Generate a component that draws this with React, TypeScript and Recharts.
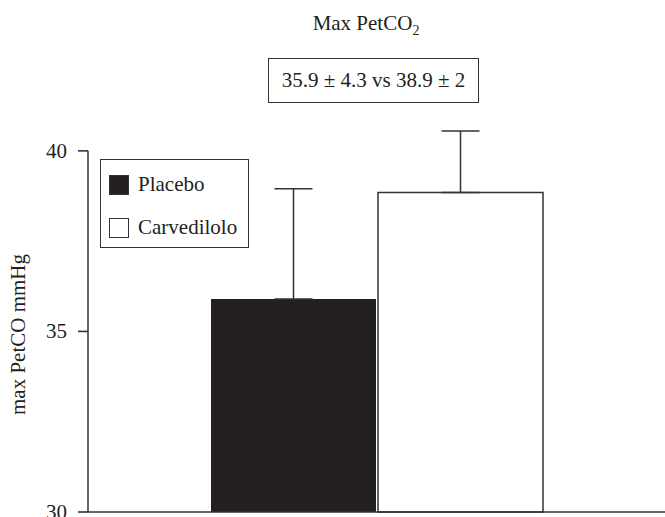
import React from 'react';
import { BarChart, Bar, XAxis, YAxis, ErrorBar, Legend, ReferenceLine } from 'recharts';

const groups = [''];
const seriesKeys = ['placebo', 'carvedilolo'];
const placebo = [35.9];
const carvedilolo = [38.85];
const placeboErr = [3.05];
const carvedililoErr = [1.7];
const yTicks = [30, 35, 40];

const SERIF = "'Liberation Serif', 'Times New Roman', serif";
const INK = '#231f20';
const LINE = '#333';
const TICK_SIZE = 10;
const TICK_GAP = 11;

const legendFill: Record<string, string> = { placebo: INK, carvedilolo: '#fff' };

const data = groups.map((g, i) => ({
  group: g,
  edge: 0,
  placebo: placebo[i],
  carvedilolo: carvedilolo[i],
  placeboErr: [0, placeboErr[i]],
  carvedililoErr: [0, carvedililoErr[i]],
}));

// legend box drawn inside the plot, top left
const renderLegend = (props: any) => {
  const items = [...(props.payload || [])].sort(
    (a: any, b: any) => seriesKeys.indexOf(a.dataKey) - seriesKeys.indexOf(b.dataKey)
  );
  return (
    <div
      style={{
        width: 149,
        height: 89,
        boxSizing: 'border-box',
        border: `1.5px solid ${LINE}`,
        paddingLeft: 8,
        paddingTop: 3,
        fontFamily: SERIF,
        fontSize: 21,
        color: INK,
        background: '#fff',
      }}
    >
      {items.map((entry: any) => (
        <div key={entry.dataKey} style={{ display: 'flex', alignItems: 'center', height: 43 }}>
          <span
            style={{
              display: 'inline-block',
              width: 20,
              height: 20,
              boxSizing: 'border-box',
              background: legendFill[entry.dataKey],
              border: `1.5px solid ${LINE}`,
              marginRight: 9,
            }}
          />
          <span>{entry.value}</span>
        </div>
      ))}
    </div>
  );
};

// tick text plus its little dash out to the axis
const YTick = (props: any) => {
  const { x, y, payload } = props;
  const tx = Number(x);
  const ty = Number(y);
  return (
    <g>
      <path d={`M${tx + TICK_GAP},${ty}H${tx + TICK_GAP + TICK_SIZE}`} stroke={LINE} strokeWidth={1.6} fill="none" />
      <text x={tx} y={ty} textAnchor="end" dominantBaseline="central" fontFamily={SERIF} fontSize={21} fill={INK}>
        {payload.value}
      </text>
    </g>
  );
};

const YLabel = (props: any) => {
  const vb = props.viewBox || {};
  const cx = vb.x + 18;
  const cy = vb.y + vb.height / 2 + 13;
  return (
    <text
      x={cx}
      y={cy}
      transform={`rotate(-90, ${cx}, ${cy})`}
      textAnchor="middle"
      dominantBaseline="central"
      fontFamily={SERIF}
      fontSize={21}
      fill={INK}
    >
      max PetCO mmHg
    </text>
  );
};

export default function App() {
  return (
    <div style={{ position: 'absolute', left: 0, top: 0, width: 665, height: 517, background: '#fff', fontFamily: SERIF }}>
      <div style={{ position: 'absolute', left: 0, width: 732, top: 11, textAlign: 'center', fontSize: 21, color: INK }}>
        Max PetCO<sub style={{ fontSize: 14 }}>2</sub>
      </div>
      <div
        style={{
          position: 'absolute',
          left: 268,
          top: 58,
          width: 211,
          height: 45,
          boxSizing: 'border-box',
          border: `1.5px solid ${LINE}`,
          textAlign: 'center',
          lineHeight: '42px',
          fontSize: 21,
          color: INK,
        }}
      >
        35.9 ± 4.3 vs 38.9 ± 2
      </div>
      <BarChart
        width={665}
        height={517}
        data={data}
        margin={{ top: 131, right: 0, bottom: 0, left: 0 }}
        barGap={2}
        barSize={165}
      >
        <XAxis dataKey="group" tick={false} tickLine={false} height={5} stroke={LINE} strokeWidth={1.5} />
        <XAxis xAxisId="edge" dataKey="edge" type="number" scale="linear" domain={[0, 1]} allowDataOverflow hide />
        <YAxis
          domain={[30, 40]}
          ticks={yTicks}
          interval={0}
          width={88}
          axisLine={false}
          tickSize={TICK_SIZE}
          tickMargin={TICK_GAP}
          tick={(p: any) => <YTick {...p} />}
          tickLine={false}
          label={(p: any) => <YLabel {...p} />}
        />
        <ReferenceLine
          xAxisId="edge"
          segment={[{ x: 0, y: 30 }, { x: 0, y: 40 }]}
          stroke={LINE}
          strokeWidth={1.5}
          ifOverflow="visible"
        />
        <Legend
          content={renderLegend}
          layout="horizontal"
          verticalAlign="middle"
          align="center"
          wrapperStyle={{ left: 100, top: 159, width: 149, height: 89 }}
        />
        <Bar dataKey="placebo" name="Placebo" fill={INK} isAnimationActive={false}>
          <ErrorBar dataKey="placeboErr" direction="y" width={19} stroke={LINE} strokeWidth={1.5} />
        </Bar>
        <Bar dataKey="carvedilolo" name="Carvedilolo" fill="#fff" stroke={LINE} strokeWidth={1.5} isAnimationActive={false}>
          <ErrorBar dataKey="carvedililoErr" direction="y" width={19} stroke={LINE} strokeWidth={1.5} />
        </Bar>
      </BarChart>
    </div>
  );
}
